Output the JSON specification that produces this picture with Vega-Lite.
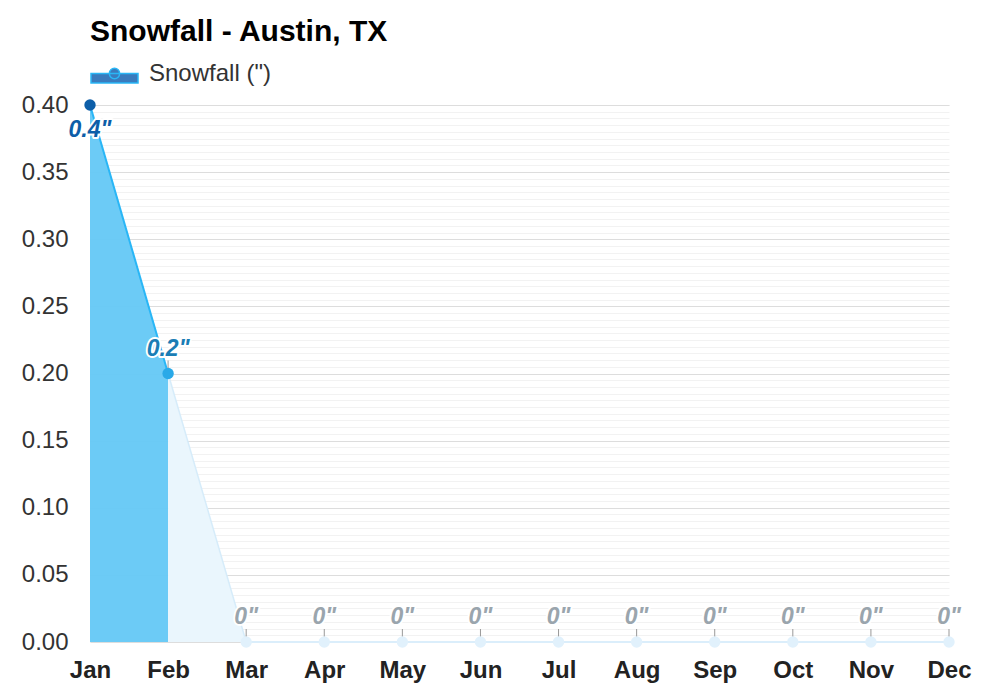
{
  "$schema": "https://vega.github.io/schema/vega-lite/v6.json",
  "autosize": "none",
  "width": 859,
  "height": 537,
  "padding": {"left": 90, "top": 105, "right": 51, "bottom": 58},
  "background": "white",
  "config": {"font": "Liberation Sans", "view": {"stroke": null}},
  "title": {"text": "Snowfall - Austin, TX", "anchor": "start", "frame": "group", "fontSize": 30, "fontWeight": "bold", "color": "#000000", "offset": 2},
  "data": {"values": [
    {"month": "Jan", "snow": 0.4},
    {"month": "Feb", "snow": 0.2},
    {"month": "Mar", "snow": 0},
    {"month": "Apr", "snow": 0},
    {"month": "May", "snow": 0},
    {"month": "Jun", "snow": 0},
    {"month": "Jul", "snow": 0},
    {"month": "Aug", "snow": 0},
    {"month": "Sep", "snow": 0},
    {"month": "Oct", "snow": 0},
    {"month": "Nov", "snow": 0},
    {"month": "Dec", "snow": 0}
  ]},
  "transform": [{"calculate": "datum.snow + '\"'", "as": "label"}],
  "encoding": {
    "x": {"field": "month", "type": "ordinal", "scale": {"type": "point", "padding": 0, "domain": ["Jan","Feb","Mar","Apr","May","Jun","Jul","Aug","Sep","Oct","Nov","Dec"]},
      "axis": {"title": null, "labelAngle": 0, "labelFontSize": 24, "labelFontWeight": "bold", "labelColor": "#222222", "labelPadding": 16, "ticks": false, "domain": false, "grid": false}},
    "y": {"field": "snow", "type": "quantitative", "scale": {"domain": [0, 0.4], "nice": false}, "axis": null}
  },
  "resolve": {"axis": {"y": "independent"}},
  "layer": [
    {
      "transform": [{"filter": {"field": "month", "oneOf": ["Jan", "Feb"]}}],
      "mark": {"type": "area", "color": "#64c8f5", "opacity": 0.95},
      "encoding": {"y": {"field": "snow", "type": "quantitative", "axis": {"orient": "left", "title": null, "labels": false, "ticks": false, "domain": false, "grid": true, "gridColor": "#f2f2f2", "gridWidth": 1, "values": [0,0.005,0.01,0.015,0.02,0.025,0.03,0.035,0.04,0.045,0.05,0.055,0.06,0.065,0.07,0.075,0.08,0.085,0.09,0.095,0.1,0.105,0.11,0.115,0.12,0.125,0.13,0.135,0.14,0.145,0.15,0.155,0.16,0.165,0.17,0.175,0.18,0.185,0.19,0.195,0.2,0.205,0.21,0.215,0.22,0.225,0.23,0.235,0.24,0.245,0.25,0.255,0.26,0.265,0.27,0.275,0.28,0.285,0.29,0.295,0.3,0.305,0.31,0.315,0.32,0.325,0.33,0.335,0.34,0.345,0.35,0.355,0.36,0.365,0.37,0.375,0.38,0.385,0.39,0.395,0.4], "zindex": 0}}}
    },
    {
      "transform": [{"filter": {"field": "month", "oneOf": ["Feb", "Mar"]}}],
      "mark": {"type": "area", "color": "#eaf6fd"},
      "encoding": {"y": {"field": "snow", "type": "quantitative", "axis": {"orient": "left", "title": null, "format": ".2f", "labelFontSize": 24, "labelColor": "#333333", "labelPadding": 22, "ticks": false, "domain": false, "grid": true, "gridColor": "#dddddd", "values": [0,0.05,0.1,0.15,0.2,0.25,0.3,0.35,0.4], "zindex": 0}}}
    },
    {
      "transform": [{"filter": {"field": "month", "oneOf": ["Feb", "Mar"]}}],
      "mark": {"type": "line", "color": "#d6ecfa", "strokeWidth": 1.5},
      "encoding": {}
    },
    {
      "transform": [{"filter": "datum.snow == 0"}],
      "mark": {"type": "line", "color": "#dbeefb", "strokeWidth": 2},
      "encoding": {}
    },
    {
      "transform": [{"filter": {"field": "month", "oneOf": ["Jan", "Feb"]}}],
      "mark": {"type": "line", "strokeWidth": 2},
      "encoding": {
        "color": {"datum": "Snowfall (\")", "scale": {"range": ["#29b6f6"]},
          "legend": {"title": null, "orient": "none", "legendX": 0, "legendY": -56, "labelFontSize": 24, "labelColor": "#333333", "labelOffset": 10,
            "symbolType": "M-1,0 L1,0 L1,0.4 L-1,0.4 Z M0.22,0 A0.22,0.22 0 1,1 -0.22,0 A0.22,0.22 0 1,1 0.22,0 Z", "symbolSize": 2209,
            "encode": {"symbols": {"update": {"fill": {"value": "#3a7bbd"}, "stroke": {"value": "#0d5ea8"}, "strokeWidth": {"value": 1.5}}}}}}
      }
    },
    {
      "transform": [{"filter": "datum.snow < 0.4"}],
      "mark": {"type": "rule", "color": "#999999", "strokeWidth": 1, "yOffset": -13},
      "encoding": {"y2": {"field": "snow"}}
    },
    {
      "mark": {"type": "point", "filled": true, "size": 130, "opacity": 1},
      "encoding": {"color": {"condition": [{"test": "datum.snow >= 0.4", "value": "#0d5ea8"}, {"test": "datum.snow > 0", "value": "#29a9e8"}], "value": "#e1f1fc"}}
    },
    {
      "transform": [{"filter": "datum.snow >= 0.4"}],
      "mark": {"type": "text", "fontSize": 23, "fontStyle": "italic", "fontWeight": "bold", "dy": 25, "stroke": "white", "strokeWidth": 4, "strokeJoin": "round"},
      "encoding": {"text": {"field": "label"}}
    },
    {
      "transform": [{"filter": "datum.snow < 0.4"}],
      "mark": {"type": "text", "fontSize": 23, "fontStyle": "italic", "fontWeight": "bold", "dy": -25, "stroke": "white", "strokeWidth": 4, "strokeJoin": "round"},
      "encoding": {"text": {"field": "label"}}
    },
    {
      "transform": [{"filter": "datum.snow >= 0.4"}],
      "mark": {"type": "text", "fontSize": 23, "fontStyle": "italic", "fontWeight": "bold", "dy": 25, "color": "#0d5ea8"},
      "encoding": {"text": {"field": "label"}}
    },
    {
      "transform": [{"filter": "datum.snow < 0.4"}],
      "mark": {"type": "text", "fontSize": 23, "fontStyle": "italic", "fontWeight": "bold", "dy": -25},
      "encoding": {"text": {"field": "label"}, "color": {"condition": {"test": "datum.snow > 0", "value": "#1a7db5"}, "value": "#9aa5ad"}}
    }
  ]
}
